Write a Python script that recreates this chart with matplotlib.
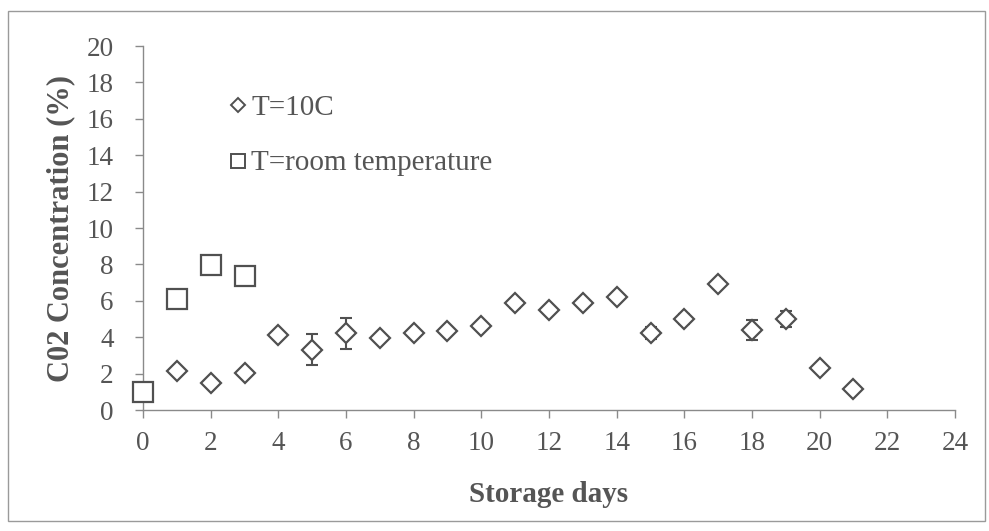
import matplotlib
matplotlib.use("Agg")
import matplotlib.pyplot as plt
from matplotlib.patches import Rectangle

# Data
days_10c = [1, 2, 3, 4, 5, 6, 7, 8, 9, 10, 11, 12, 13, 14, 15, 16, 17, 18, 19, 20, 21]
co2_10c = [2.16, 1.47, 2.05, 4.12, 3.30, 4.21, 3.97, 4.21, 4.36, 4.63, 5.86, 5.49, 5.86, 6.23, 4.25, 5.00, 6.90, 4.40, 5.00, 2.33, 1.14]
err_10c = [0.0, 0.0, 0.0, 0.22, 0.85, 0.85, 0.0, 0.18, 0.18, 0.18, 0.25, 0.0, 0.0, 0.0, 0.33, 0.3, 0.0, 0.53, 0.46, 0.0, 0.0]

days_room = [0, 1, 2, 3]
co2_room = [0.97, 6.12, 7.97, 7.38]

x_ticks = list(range(0, 25, 2))
y_ticks = list(range(0, 21, 2))

label_10c = "T=10C"
label_room = "T=room temperature"
xlabel = "Storage days"
ylabel = "C02 Concentration (%)"

plt.rcParams['font.family'] = ['Liberation Serif', 'DejaVu Serif']
text_col = "#555555"
mark_col = "#505050"
spine_col = "#8a8a8a"

fig = plt.figure(figsize=(9.89, 5.31), dpi=100)
ax = fig.add_axes([143/989, 1 - 410/531, (955-143)/989, (410-46)/531])

fig.patches.append(Rectangle((8/989, 1 - 521/531), (985-8)/989, (521-11)/531,
                             transform=fig.transFigure, fill=False,
                             edgecolor="#9a9a9a", linewidth=1.0))

ax.errorbar(days_10c, co2_10c, yerr=err_10c, fmt='none', ecolor=mark_col,
            elinewidth=1.5, capsize=4.5, capthick=1.5, zorder=2)
ax.plot(days_10c, co2_10c, linestyle='none', marker='D', markersize=10.5,
        markerfacecolor='white', markeredgecolor=mark_col, markeredgewidth=1.6, zorder=3)
ax.plot(days_room, co2_room, linestyle='none', marker='s', markersize=14.5,
        markerfacecolor='white', markeredgecolor=mark_col, markeredgewidth=1.6,
        zorder=3, clip_on=False)

ax.set_xlim(0, 24)
ax.set_ylim(0, 20)
ax.set_xticks(x_ticks)
ax.set_yticks(y_ticks)
ax.tick_params(axis='both', colors=spine_col, labelcolor=text_col, labelsize=19.5,
               length=6, width=1.0)
ax.tick_params(axis='y', pad=15)
ax.tick_params(axis='x', pad=9)
for s in ['top', 'right']:
    ax.spines[s].set_visible(False)
for s in ['left', 'bottom']:
    ax.spines[s].set_color(spine_col)
    ax.spines[s].set_linewidth(1.0)

ax.set_xlabel(xlabel, fontsize=21, fontweight='bold', color=text_col, labelpad=18)
ax.set_ylabel(ylabel, fontsize=22, fontweight='bold', color=text_col, labelpad=8)

# Legend (manual, inside plot)
ax.plot([2.82], [16.75], linestyle='none', marker='D', markersize=7.5,
        markerfacecolor='white', markeredgecolor=mark_col, markeredgewidth=1.4, clip_on=False)
ax.text(3.2, 16.6, label_10c, fontsize=21, color=text_col, va='center', ha='left')
ax.plot([2.82], [13.7], linestyle='none', marker='s', markersize=10.5,
        markerfacecolor='white', markeredgecolor=mark_col, markeredgewidth=1.4, clip_on=False)
ax.text(3.2, 13.55, label_room, fontsize=21, color=text_col, va='center', ha='left')

fig.savefig("out.png", dpi=100)
